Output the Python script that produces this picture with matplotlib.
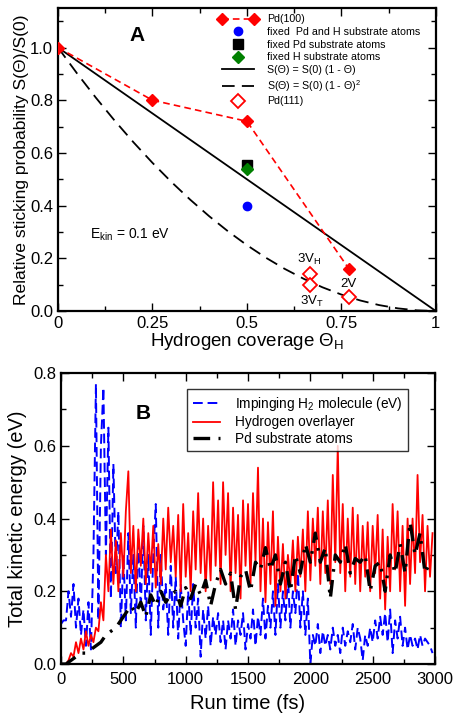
import matplotlib
matplotlib.use("Agg")
import matplotlib.pyplot as plt
from matplotlib.ticker import MultipleLocator, FixedLocator, FormatStrFormatter
from matplotlib.legend_handler import HandlerLine2D

plt.rcParams['font.family'] = ['Liberation Sans', 'DejaVu Sans']
plt.rcParams['mathtext.fontset'] = 'custom'
plt.rcParams['mathtext.rm'] = 'Liberation Sans'
plt.rcParams['mathtext.it'] = 'Liberation Sans'

# ---------------- Panel A data ----------------
pd100_theta = [0.0, 0.25, 0.5, 0.77]
pd100_s = [1.0, 0.80, 0.72, 0.16]
fixed_pdh_theta = [0.5]
fixed_pdh_s = [0.40]
fixed_pd_theta = [0.5]
fixed_pd_s = [0.555]
fixed_h_theta = [0.5]
fixed_h_s = [0.54]
lin_theta = [0.0, 1.0]
lin_s = [1.0, 0.0]
quad_theta = [0.0, 0.05, 0.1, 0.15, 0.2, 0.25, 0.3, 0.35, 0.4, 0.45, 0.5,
              0.55, 0.6, 0.65, 0.7, 0.75, 0.8, 0.85, 0.9, 0.95, 1.0]
quad_s = [1.0, 0.9025, 0.81, 0.7225, 0.64, 0.5625, 0.49, 0.4225, 0.36, 0.3025, 0.25,
          0.2025, 0.16, 0.1225, 0.09, 0.0625, 0.04, 0.0225, 0.01, 0.0025, 0.0]
pd111_theta = [0.667, 0.667, 0.77]
pd111_s = [0.14, 0.10, 0.055]
pd111_labels = ['3V$_\\mathregular{H}$', '3V$_\\mathregular{T}$', '2V']

# ---------------- Panel B data ----------------
red_t = list(range(0, 3000, 20))
red_e = [0.0, 0.0, 0.0, 0.01, 0.03, 0.02, 0.06, 0.03, 0.07, 0.04,
         0.09, 0.05, 0.08, 0.06, 0.10, 0.09, 0.17, 0.12, 0.30, 0.20,
         0.37, 0.22, 0.34, 0.20, 0.36, 0.24, 0.42, 0.53, 0.25, 0.38,
         0.20, 0.37, 0.27, 0.40, 0.22, 0.36, 0.25, 0.38, 0.21, 0.33,
         0.22, 0.40, 0.26, 0.43, 0.28, 0.38, 0.24, 0.41, 0.20, 0.44,
         0.24, 0.36, 0.20, 0.42, 0.26, 0.47, 0.25, 0.40, 0.20, 0.38,
         0.23, 0.50, 0.27, 0.45, 0.22, 0.50, 0.30, 0.47, 0.20, 0.43,
         0.25, 0.41, 0.18, 0.45, 0.27, 0.44, 0.22, 0.47, 0.28, 0.54,
         0.20, 0.40, 0.17, 0.39, 0.22, 0.42, 0.16, 0.35, 0.20, 0.33,
         0.18, 0.30, 0.22, 0.34, 0.20, 0.35, 0.24, 0.37, 0.20, 0.42,
         0.23, 0.40, 0.27, 0.43, 0.22, 0.42, 0.25, 0.45, 0.22, 0.52,
         0.28, 0.60, 0.25, 0.44, 0.20, 0.40, 0.24, 0.43, 0.22, 0.41,
         0.20, 0.38, 0.24, 0.39, 0.20, 0.38, 0.25, 0.41, 0.18, 0.37,
         0.15, 0.35, 0.20, 0.44, 0.26, 0.42, 0.20, 0.38, 0.16, 0.40,
         0.22, 0.40, 0.25, 0.52, 0.28, 0.41, 0.20, 0.38, 0.24, 0.36]

blue_t = list(range(0, 3000, 20))
blue_e = [0.11, 0.12, 0.12, 0.20, 0.13, 0.22, 0.10, 0.18, 0.08, 0.15,
          0.05, 0.17, 0.04, 0.30, 0.77, 0.12, 0.60, 0.76, 0.30, 0.65,
          0.18, 0.55, 0.25, 0.42, 0.10, 0.30, 0.12, 0.36, 0.14, 0.30,
          0.10, 0.35, 0.15, 0.38, 0.12, 0.30, 0.08, 0.30, 0.44, 0.10,
          0.30, 0.15, 0.22, 0.08, 0.27, 0.10, 0.24, 0.07, 0.22, 0.12,
          0.05, 0.20, 0.08, 0.22, 0.10, 0.18, 0.02, 0.15, 0.07, 0.16,
          0.05, 0.13, 0.08, 0.14, 0.06, 0.12, 0.04, 0.12, 0.07, 0.15,
          0.05, 0.12, 0.08, 0.14, 0.04, 0.11, 0.07, 0.15, 0.05, 0.13,
          0.08, 0.18, 0.07, 0.16, 0.10, 0.20, 0.08, 0.22, 0.10, 0.20,
          0.12, 0.24, 0.10, 0.20, 0.14, 0.25, 0.10, 0.20, 0.08, 0.18,
          0.00, 0.08, 0.05, 0.11, 0.03, 0.09, 0.05, 0.08, 0.04, 0.10,
          0.05, 0.08, 0.03, 0.10, 0.05, 0.09, 0.06, 0.11, 0.04, 0.10,
          0.07, 0.01, 0.08, 0.05, 0.10, 0.06, 0.12, 0.07, 0.13, 0.08,
          0.14, 0.06, 0.15, 0.03, 0.12, 0.07, 0.13, 0.05, 0.10, 0.04,
          0.08, 0.05, 0.07, 0.04, 0.08, 0.05, 0.07, 0.06, 0.05, 0.03]

black_t = list(range(0, 3000, 40))
black_e = [0.0, 0.0, 0.01, 0.02, 0.03, 0.03, 0.04, 0.05, 0.06, 0.08,
           0.09, 0.10, 0.12, 0.14, 0.16, 0.14, 0.17, 0.13, 0.19, 0.16,
           0.20, 0.17, 0.19, 0.20, 0.16, 0.21, 0.18, 0.22, 0.19, 0.23,
           0.16, 0.22, 0.26, 0.22, 0.25, 0.15, 0.24, 0.26, 0.20, 0.28,
           0.26, 0.32, 0.26, 0.30, 0.22, 0.28, 0.20, 0.30, 0.25, 0.33,
           0.28, 0.36, 0.28, 0.32, 0.18, 0.30, 0.28, 0.33, 0.25, 0.29,
           0.28, 0.30, 0.20, 0.27, 0.28, 0.20, 0.30, 0.25, 0.33, 0.25,
           0.39, 0.30, 0.36, 0.25, 0.28]

fig = plt.figure(figsize=(4.53, 7.13), dpi=100)

def style_axes(ax):
    for s in ax.spines.values():
        s.set_linewidth(1.6)
    ax.tick_params(which='both', direction='in', top=True, right=True,
                   labelsize=12, width=1.0)
    ax.tick_params(which='major', length=6)
    ax.tick_params(which='minor', length=3.5)

# ---------------- Panel A ----------------
axA = fig.add_axes([0.128, 0.5638, 0.834, 0.425])
l_pd100, = axA.plot(pd100_theta, pd100_s, color='red', ls=(0, (4, 2.5)), lw=1.2,
                    marker='D', ms=6, mfc='red', mec='red', label='Pd(100)', zorder=4)
l_pdh, = axA.plot(fixed_pdh_theta, fixed_pdh_s, ls='none', marker='o', ms=6, color='blue',
                  label='fixed  Pd and H substrate atoms', zorder=5)
l_pd, = axA.plot(fixed_pd_theta, fixed_pd_s, ls='none', marker='s', ms=7, color='black',
                 label='fixed Pd substrate atoms', zorder=5)
l_h, = axA.plot(fixed_h_theta, fixed_h_s, ls='none', marker='D', ms=6, color='green',
                label='fixed H substrate atoms', zorder=6)
axA.plot(lin_theta, lin_s, color='black', lw=1.3,
         label='S(Θ) = S(0) (1 - Θ)')
axA.plot(quad_theta, quad_s, color='black', lw=1.3, ls=(0, (7, 4)),
         label='S(Θ) = S(0) (1 - Θ)$^2$')
l_111, = axA.plot(pd111_theta, pd111_s, ls='none', marker='D', ms=7, mfc='white',
                  mec='red', mew=1.3, label='Pd(111)', zorder=6)
lab_pos = [(0.665, 0.195), (0.672, 0.038), (0.77, 0.103)]
for lab, (lx, ly) in zip(pd111_labels, lab_pos):
    axA.text(lx, ly, lab, ha='center', va='center', fontsize=9.5)

axA.set_xlim(0, 1)
axA.set_ylim(0, 1.15)
axA.xaxis.set_major_locator(FixedLocator([0, 0.25, 0.5, 0.75, 1.0]))
axA.set_xticklabels(['0', '0.25', '0.5', '0.75', '1'])
axA.xaxis.set_minor_locator(MultipleLocator(0.125))
axA.yaxis.set_major_locator(FixedLocator([0, 0.2, 0.4, 0.6, 0.8, 1.0]))
axA.set_yticklabels(['0.0', '0.2', '0.4', '0.6', '0.8', '1.0'])
axA.yaxis.set_minor_locator(MultipleLocator(0.1))
style_axes(axA)
axA.set_xlabel('Hydrogen coverage Θ$_\\mathregular{H}$', fontsize=13.5, labelpad=0)
axA.set_ylabel('Relative sticking probability S(Θ)/S(0)', fontsize=12.6, labelpad=1)
axA.text(0.21, 1.045, 'A', fontsize=15, fontweight='bold', ha='center', va='center')
axA.text(0.085, 0.29, 'E$_\\mathregular{kin}$ = 0.1 eV', fontsize=10, ha='left', va='center')
one = HandlerLine2D(numpoints=1)
legA = axA.legend(loc='upper right', bbox_to_anchor=(0.975, 1.0), frameon=False,
                  fontsize=7.7, handlelength=3.6, handletextpad=0.9,
                  labelspacing=0.25, borderaxespad=0.2, numpoints=2,
                  handler_map={l_pdh: one, l_pd: one, l_h: one, l_111: one})

# ---------------- Panel B ----------------
axB = fig.add_axes([0.1347, 0.0687, 0.8256, 0.408])
axB.plot(blue_t, blue_e, color='blue', lw=1.4, ls=(0, (5, 2.5)),
         label='Impinging H$_2$ molecule (eV)', zorder=2)
axB.plot(red_t, red_e, color='red', lw=1.3, label='Hydrogen overlayer', zorder=3)
axB.plot(black_t, black_e, color='black', lw=2.4, ls=(0, (5, 2.5, 0.8, 2.5)),
         label='Pd substrate atoms', zorder=4)
axB.set_xlim(0, 3000)
axB.set_ylim(0, 0.8)
axB.xaxis.set_major_locator(MultipleLocator(500))
axB.xaxis.set_minor_locator(MultipleLocator(250))
axB.yaxis.set_major_locator(MultipleLocator(0.2))
axB.yaxis.set_minor_locator(MultipleLocator(0.1))
axB.yaxis.set_major_formatter(FormatStrFormatter('%.1f'))
style_axes(axB)
axB.tick_params(axis='x', which='major', pad=6)
axB.set_xlabel('Run time (fs)', fontsize=14.5, labelpad=5)
axB.set_ylabel('Total kinetic energy (eV)', fontsize=14.5, labelpad=4)
axB.text(658, 0.69, 'B', fontsize=15, fontweight='bold', ha='center', va='center')
legB = axB.legend(loc='upper left', bbox_to_anchor=(0.337, 0.945), frameon=True,
                  fontsize=9.8, handlelength=2.0, handletextpad=1.1,
                  labelspacing=0.2, borderaxespad=0.0, fancybox=False,
                  borderpad=0.4)
legB.get_frame().set_edgecolor('black')
legB.get_frame().set_linewidth(1.0)

fig.savefig('out.png', dpi=100)
